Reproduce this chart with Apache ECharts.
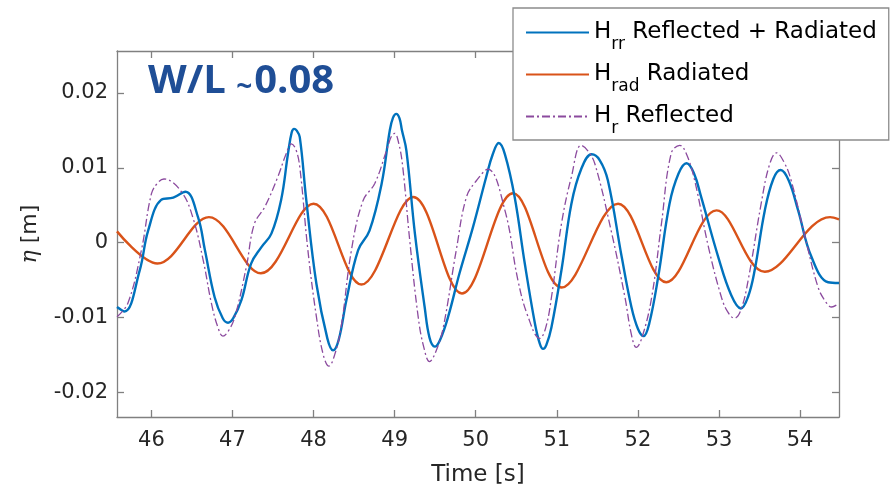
<!DOCTYPE html>
<html>
<head>
<meta charset="utf-8">
<script src="https://cdn.jsdelivr.net/npm/echarts@6/dist/echarts.min.js"></script>
<style>
  html, body { margin: 0; padding: 0; background: #fff; }
  #chart { width: 893px; height: 487px; }
</style>
</head>
<body>
<div id="chart"></div>
<script>
// time axis ticks and elevation ticks
var timeTicks = [46, 47, 48, 49, 50, 51, 52, 53, 54];
var etaTicks = [-0.02, -0.01, 0, 0.01, 0.02];

// H_rr reflected + radiated  [time s, eta m]
var hrrData = [
    [45.576, -0.0086], [45.67, -0.0092], [45.856, -0.0037], [45.96, 0.0016], [46.12, 0.0057],
    [46.27, 0.0060], [46.42, 0.0068], [46.575, 0.0034], [46.66, -0.0010], [46.78, -0.0073],
    [46.88, -0.0101], [46.945, -0.0107], [47.01, -0.0101], [47.11, -0.0077], [47.23, -0.0028],
    [47.357, -0.0006], [47.48, 0.0012], [47.6, 0.0057], [47.685, 0.0119], [47.73, 0.0147],
    [47.76, 0.0152], [47.79, 0.0150], [47.83, 0.0141], [47.91, 0.0057], [48.035, -0.0055],
    [48.17, -0.0128], [48.24, -0.0144], [48.31, -0.0130], [48.405, -0.0077], [48.55, -0.0010],
    [48.69, 0.0016], [48.84, 0.0079], [48.94, 0.0150], [48.98, 0.0167], [49.02, 0.0172],
    [49.06, 0.0166], [49.09, 0.0150], [49.145, 0.0123], [49.25, 0.0012], [49.37, -0.0086],
    [49.43, -0.0127], [49.495, -0.0139], [49.56, -0.0130], [49.66, -0.0099], [49.8, -0.0041],
    [49.967, 0.0021], [50.13, 0.0088], [50.21, 0.0118], [50.284, 0.0133], [50.36, 0.0118],
    [50.48, 0.0061], [50.605, -0.0028], [50.73, -0.0108], [50.79, -0.0135], [50.83, -0.0142],
    [50.87, -0.0137], [50.934, -0.0113], [51.057, -0.0037], [51.18, 0.0052], [51.3, 0.0098],
    [51.43, 0.0118], [51.53, 0.0110], [51.63, 0.0083], [51.8, -0.0019], [51.92, -0.0086],
    [52.0, -0.0115], [52.07, -0.0125], [52.14, -0.0108], [52.25, -0.0046], [52.39, 0.0052],
    [52.5, 0.0092], [52.6, 0.0106], [52.69, 0.0093], [52.78, 0.0061], [52.99, -0.0019],
    [53.15, -0.0070], [53.27, -0.0088], [53.36, -0.0072], [53.44, -0.0037], [53.565, 0.0043],
    [53.67, 0.0085], [53.76, 0.0097], [53.86, 0.0083], [53.976, 0.0043], [54.14, -0.0019],
    [54.346, -0.0053], [54.48, -0.0054]
];

// H_rad radiated (crests and troughs)
var hradData = [
    [45.576, 0.0015], [46.074, -0.0028], [46.71, 0.0034], [47.35, -0.0041], [48.0, 0.0052],
    [48.59, -0.0056], [49.23, 0.0061], [49.83, -0.0068], [50.46, 0.0066], [51.06, -0.0060],
    [51.755, 0.0052], [52.35, -0.0053], [52.97, 0.0043], [53.565, -0.0039], [54.37, 0.0034],
    [54.48, 0.0031]
];

// H_r reflected
var hrData = [
    [45.576, -0.0099], [45.71, -0.0081], [45.877, -0.0010], [46.0, 0.0065], [46.08, 0.0080],
    [46.155, 0.0085], [46.37, 0.0068], [46.51, 0.0034], [46.64, -0.0024], [46.74, -0.0081],
    [46.82, -0.0113], [46.883, -0.0125], [46.95, -0.0118], [47.03, -0.0099], [47.17, -0.0033],
    [47.27, 0.0025], [47.4, 0.0048], [47.56, 0.0088], [47.66, 0.0118], [47.727, 0.0132],
    [47.78, 0.0125], [47.83, 0.0101], [47.93, -0.0010], [48.035, -0.0099], [48.12, -0.0150],
    [48.19, -0.0165], [48.26, -0.0150], [48.34, -0.0113], [48.467, -0.0010], [48.61, 0.0056],
    [48.755, 0.0079], [48.9, 0.0123], [48.96, 0.0142], [49.0, 0.0146], [49.05, 0.0133],
    [49.1, 0.0101], [49.186, 0.0003], [49.29, -0.0099], [49.36, -0.0140], [49.43, -0.0159],
    [49.51, -0.0145], [49.6, -0.0113], [49.76, -0.0010], [49.886, 0.0061], [50.01, 0.0083],
    [50.15, 0.0098], [50.36, 0.0043], [50.52, -0.0050], [50.645, -0.0099], [50.79, -0.0128],
    [50.86, -0.0115], [50.934, -0.0073], [51.057, 0.0025], [51.18, 0.0088], [51.3, 0.0130],
    [51.38, 0.0123], [51.47, 0.0105], [51.67, 0.0016], [51.84, -0.0073], [51.92, -0.0123],
    [51.98, -0.0140], [52.05, -0.0127], [52.17, -0.0073], [52.29, 0.0025], [52.41, 0.0119],
    [52.517, 0.0130], [52.6, 0.0118], [52.7, 0.0083], [52.87, -0.0006], [53.03, -0.0073],
    [53.11, -0.0093], [53.19, -0.0101], [53.27, -0.0090], [53.36, -0.0050], [53.52, 0.0052],
    [53.62, 0.0103], [53.71, 0.0120], [53.8, 0.0108], [53.89, 0.0083], [54.06, 0.0008],
    [54.22, -0.0059], [54.31, -0.0078], [54.39, -0.0086], [54.48, -0.0081]
];

var font = 'DejaVu Sans';
var axisGray = '#808080';
var textDark = '#262626';
var xMin = 45.576, xMax = 54.48;
var yMin = -0.0233, yMax = 0.0256;

var chart = echarts.init(document.getElementById('chart'), null, {renderer: 'canvas'});

function frameX(pos, showLabel) {
    return {
        type: 'value', position: pos, min: xMin, max: xMax,
        splitLine: {show: false},
        axisLine: {show: true, onZero: false, lineStyle: {color: axisGray, width: 1.3}},
        axisTick: {show: true, inside: true, length: 7, customValues: timeTicks, lineStyle: {color: axisGray, width: 1.3}},
        axisLabel: {show: showLabel, customValues: timeTicks, margin: 13, color: textDark, fontFamily: font, fontSize: 21}
    };
}
function frameY(pos, showLabel) {
    return {
        type: 'value', position: pos, min: yMin, max: yMax,
        splitLine: {show: false},
        axisLine: {show: true, onZero: false, lineStyle: {color: axisGray, width: 1.3}},
        axisTick: {show: true, inside: true, length: 7, customValues: etaTicks, lineStyle: {color: axisGray, width: 1.3}},
        axisLabel: {
            show: showLabel, customValues: etaTicks, margin: 9, color: textDark, fontFamily: font, fontSize: 21,
            formatter: function (v) { return v === 0 ? '0' : (+v).toFixed(2); }
        }
    };
}

var xBottom = frameX('bottom', true);
xBottom.name = 'Time [s]';
xBottom.nameLocation = 'middle';
xBottom.nameGap = 47;
xBottom.nameTextStyle = {color: textDark, fontFamily: font, fontSize: 23};

var yLeft = frameY('left', true);
yLeft.name = '{i|η} [m]';
yLeft.nameLocation = 'middle';
yLeft.nameGap = 76;
yLeft.nameTextStyle = {
    color: textDark, fontFamily: font, fontSize: 22,
    rich: {i: {fontFamily: 'DejaVu Serif', fontStyle: 'italic', fontSize: 22, color: textDark}}
};

var subStyle = {fontFamily: font, fontSize: 17, color: '#000', lineHeight: 17, padding: [24, 0, 0, 0]};
var mainStyle = {fontFamily: font, fontSize: 23, color: '#000', lineHeight: 23};

var option = {
    backgroundColor: '#fff',
    animation: false,
    title: {
        text: '{a|W/L }{b|~}{a|0.08}',
        left: 148, top: 62, padding: 0,
        textStyle: {
            rich: {
                a: {fontFamily: 'Open Sans', fontWeight: 'bold', fontSize: 40, lineHeight: 40, color: '#1F4E96'},
                b: {fontFamily: 'Open Sans', fontWeight: 'bold', fontSize: 28, lineHeight: 26, verticalAlign: 'bottom',
                    color: '#1F4E96', padding: [0, 2, 0, 0]}
            }
        }
    },
    grid: {left: 117, right: 54, top: 51, bottom: 70, outerBoundsMode: 'none', containLabel: false},
    xAxis: [xBottom, frameX('top', false)],
    yAxis: [yLeft, frameY('right', false)],
    legend: {
        orient: 'vertical',
        left: 513, top: 8,
        padding: [4, 12, 3, 12],
        itemGap: 1,
        itemWidth: 63, itemHeight: 14,
        backgroundColor: '#fff',
        borderColor: '#8c8c8c', borderWidth: 1.3, borderRadius: 0,
        itemStyle: {opacity: 0},
        lineStyle: {width: 2},
        data: ['Hrr', 'Hrad', 'Hr'],
        formatter: function (name) {
            if (name === 'Hrr') return '{m|H}{s|rr}{m| Reflected + Radiated}';
            if (name === 'Hrad') return '{m|H}{s|rad}{m| Radiated}';
            return '{m|H}{s|r}{m| Reflected}';
        },
        textStyle: {rich: {m: mainStyle, s: subStyle}}
    },
    series: [
        {
            name: 'Hrr', type: 'line', data: hrrData, smooth: 0.4, symbol: 'none',
            lineStyle: {color: '#0072BD', width: 2.4}, itemStyle: {color: '#0072BD'}, z: 3
        },
        {
            name: 'Hrad', type: 'line', data: hradData, smooth: 0.36, symbol: 'none',
            lineStyle: {color: '#D95319', width: 2.4}, itemStyle: {color: '#D95319'}, z: 2
        },
        {
            name: 'Hr', type: 'line', data: hrData, smooth: 0.4, symbol: 'none',
            lineStyle: {color: '#8B4A9E', width: 1.3, type: [8, 3, 2, 3]}, itemStyle: {color: '#8B4A9E'}, z: 4
        }
    ]
};

chart.setOption(option);
</script>
</body>
</html>
